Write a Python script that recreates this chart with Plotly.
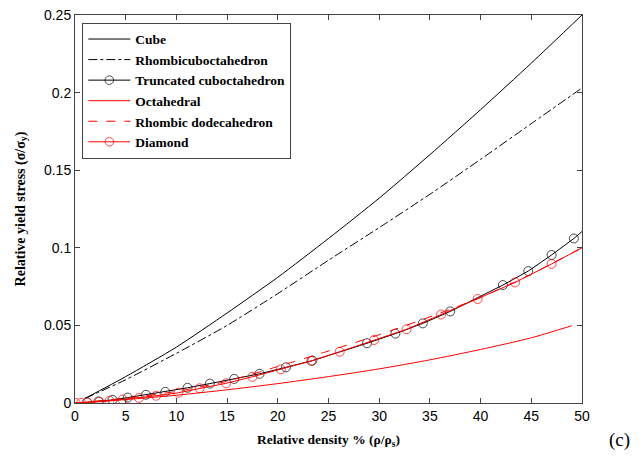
import plotly.graph_objects as go

# ---- data ----
cube_x = [1, 5, 10, 15, 20, 25, 30, 35, 40, 45, 50]
cube_y = [0.003, 0.017, 0.036, 0.058, 0.081, 0.106, 0.132, 0.160, 0.189, 0.219, 0.250]

rhombi_x = [1, 5, 10, 15, 20, 25, 30, 35, 40, 45, 50]
rhombi_y = [0.003, 0.015, 0.032, 0.050, 0.0705, 0.092, 0.113, 0.1345, 0.157, 0.180, 0.203]

trunc_x = [1.2, 2.3, 3.7, 5.2, 7.0, 8.9, 11.1, 13.3, 15.7, 18.2, 20.8, 23.4,
           28.8, 31.6, 34.3, 37.0, 42.2, 44.7, 47.0, 49.2]
trunc_y = [0.0005, 0.001, 0.002, 0.0035, 0.0053, 0.0072, 0.0098, 0.0125, 0.0155,
           0.0188, 0.023, 0.0273, 0.0385, 0.0447, 0.0513, 0.059, 0.076, 0.085,
           0.0954, 0.106]
trunc_end = (50, 0.1105)

octa_x = [0, 5, 10, 15, 20, 25, 30, 35, 40, 45, 49]
octa_y = [0, 0.0022, 0.005, 0.0085, 0.0125, 0.017, 0.022, 0.0278, 0.0345, 0.042, 0.0498]

rdodeca_x = [0, 5, 10, 15, 20, 25, 30, 35, 40, 45, 50]
rdodeca_y = [0, 0.003, 0.0075, 0.014, 0.0235, 0.0335, 0.044, 0.0555, 0.068, 0.083, 0.100]

diamond_x = [0.06, 0.6, 1.2, 2.4, 3.4, 4.7, 6.3, 8.0, 10.2, 12.3, 14.9, 17.5, 20.3,
             23.3, 26.1, 29.5, 32.7, 36.1, 39.7, 43.4, 47.0]
diamond_y = [0, 0.0001, 0.0003, 0.0008, 0.0014, 0.0022, 0.0033, 0.0047, 0.0066,
             0.0095, 0.0127, 0.0169, 0.0217, 0.0271, 0.033, 0.0406, 0.0475, 0.057,
             0.067, 0.0777, 0.0896]
diamond_end = (50, 0.100)

x_ticks = [0, 5, 10, 15, 20, 25, 30, 35, 40, 45, 50]
y_ticks = [0, 0.05, 0.1, 0.15, 0.2, 0.25]
y_ticktext = ["0", "0.05", "0.1", "0.15", "0.2", "0.25"]

RED = "#ff0000"
MS = 9
SERIF = "Liberation Serif, Times New Roman, serif"

fig = go.Figure()
fig.add_trace(go.Scatter(x=cube_x, y=cube_y, mode="lines", name="Cube",
                         line=dict(color="black", width=1, shape="spline", smoothing=0.6)))
fig.add_trace(go.Scatter(x=rhombi_x, y=rhombi_y, mode="lines", name="Rhombicuboctahedron",
                         line=dict(color="black", width=1, dash="dashdot",
                                   shape="spline", smoothing=0.6)))
fig.add_trace(go.Scatter(x=trunc_x + [trunc_end[0]], y=trunc_y + [trunc_end[1]],
                         mode="lines+markers", name="Truncated cuboctahedron",
                         line=dict(color="black", width=1),
                         marker=dict(symbol="circle-open", size=[MS] * len(trunc_x) + [0],
                                     color="black", line=dict(width=1))))
fig.add_trace(go.Scatter(x=octa_x, y=octa_y, mode="lines", name="Octahedral",
                         line=dict(color=RED, width=1, shape="spline", smoothing=0.6)))
fig.add_trace(go.Scatter(x=rdodeca_x, y=rdodeca_y, mode="lines", name="Rhombic dodecahedron",
                         line=dict(color=RED, width=1, dash="dash",
                                   shape="spline", smoothing=0.6)))
fig.add_trace(go.Scatter(x=diamond_x + [diamond_end[0]], y=diamond_y + [diamond_end[1]],
                         mode="lines+markers", name="Diamond",
                         line=dict(color=RED, width=1),
                         marker=dict(symbol="circle-open", size=[MS] * len(diamond_x) + [0],
                                     color=RED, line=dict(width=1))))

axis_common = dict(showline=True, linecolor="#444", linewidth=1, mirror="ticks",
                   ticks="inside", ticklen=5, tickcolor="#444", showgrid=False,
                   zeroline=False,
                   tickfont=dict(family="Liberation Sans, Arial", size=14, color="black"))

fig.update_xaxes(range=[0, 50], tickvals=x_ticks, **axis_common,
                 title=dict(text="Relative density % (ρ/ρ<sub>s</sub>)",
                            font=dict(family=SERIF, size=13.5, color="black", weight="bold"),
                            standoff=11))
fig.update_yaxes(range=[0, 0.25], tickvals=y_ticks, ticktext=y_ticktext, **axis_common,
                 title=dict(text="Relative yield stress (σ/σ<sub>y</sub>)",
                            font=dict(family=SERIF, size=14, color="black", weight="bold"),
                            standoff=15))

fig.update_layout(
    width=641, height=459,
    margin=dict(l=75.4, r=58.6, t=15, b=56, autoexpand=False),
    paper_bgcolor="white", plot_bgcolor="white",
    showlegend=True,
    legend=dict(x=0.0144, y=0.98, xanchor="left", yanchor="top",
                bordercolor="#444", borderwidth=1, bgcolor="white",
                itemwidth=42, tracegroupgap=0,
                font=dict(family=SERIF, size=13.5, color="black", weight="bold")),
    annotations=[dict(text="(c)", xref="paper", yref="paper", x=1.073, y=-0.095,
                      xanchor="center", yanchor="middle", showarrow=False,
                      font=dict(family=SERIF, size=19, color="black"))],
)

# remove the default page margin so the figure sits exactly in the window
fig.write_html("out.html",
               config={"displayModeBar": False},
               post_script="document.body.style.margin='0px';document.body.style.overflow='hidden';")
